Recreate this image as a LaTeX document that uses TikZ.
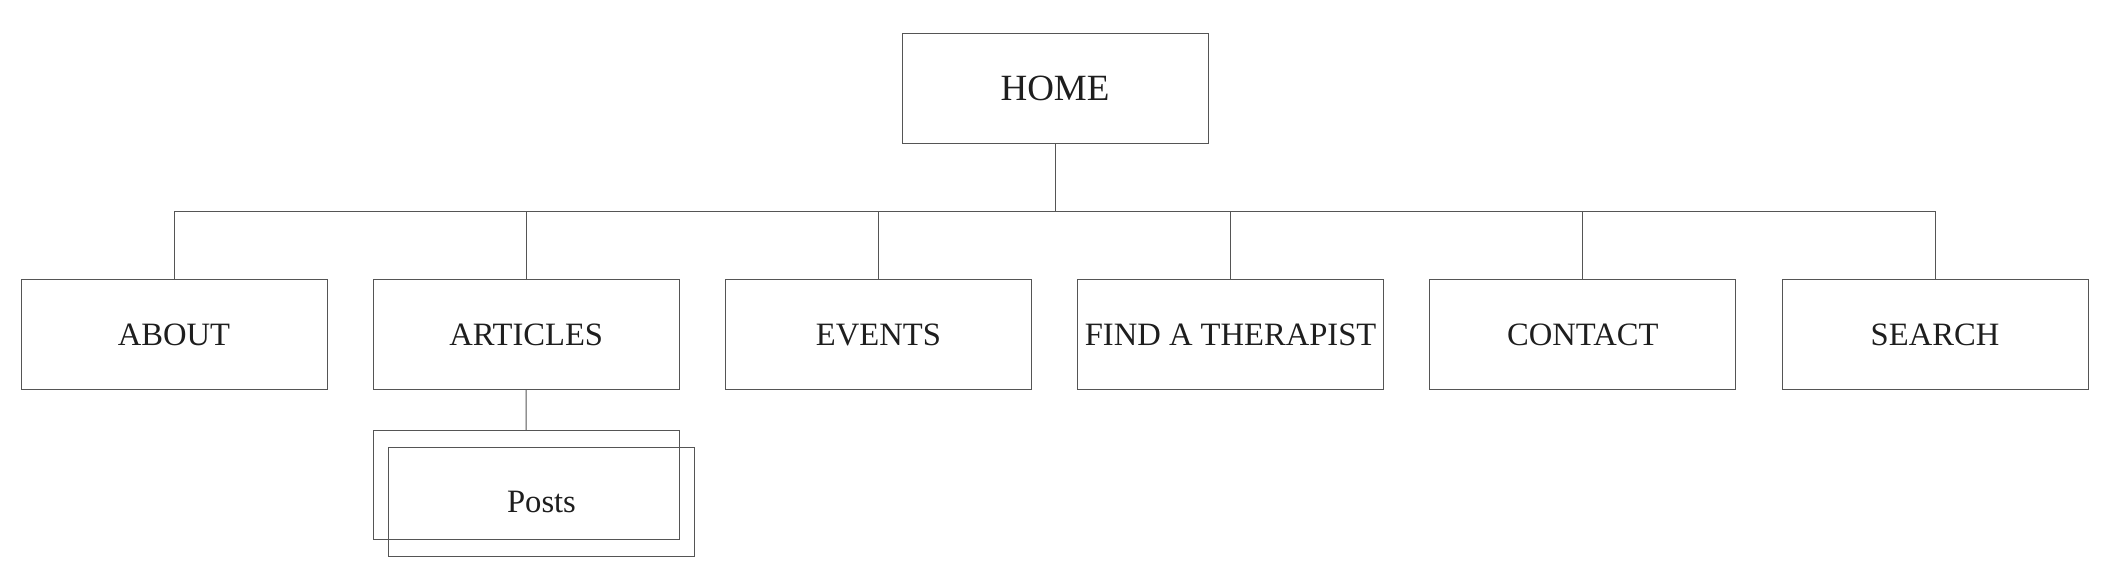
\documentclass[tikz,border=0pt]{standalone}
\usepackage{fontspec}
\setmainfont{Liberation Serif}
\begin{document}
\begin{tikzpicture}[
    pagebox/.style={draw=linegray, line width=0.5pt, minimum width=153pt, minimum height=55pt,
        inner sep=2pt, text=textgray, font=\fontsize{16.3}{20}\selectfont},
    homebox/.style={pagebox, font=\fontsize{18.5}{22}\selectfont},
    wire/.style={draw=linegray, line width=0.5pt}
]
    % Define colors
    \definecolor{linegray}{RGB}{85,85,85}
    \definecolor{textgray}{RGB}{30,30,30}

    % Fix the page size
    \useasboundingbox (0,0) rectangle (1058pt,-290.5pt);

    % Top level
    \node[homebox] (home) at (527.5pt,-44.25pt) {HOME};

    % Second level
    \node[pagebox] (about)     at (87pt,-167.25pt)    {ABOUT};
    \node[pagebox] (articles)  at (263.1pt,-167.25pt) {ARTICLES};
    \node[pagebox] (events)    at (439.2pt,-167.25pt) {EVENTS};
    \node[pagebox] (therapist) at (615.3pt,-167.25pt) {FIND A THERAPIST};
    \node[pagebox] (contact)   at (791.4pt,-167.25pt) {CONTACT};
    \node[pagebox] (search)    at (967.5pt,-167.25pt) {SEARCH};

    % Stacked posts box
    \node[pagebox, minimum height=54.5pt] (postsback) at (263pt,-242.75pt) {};
    \node[pagebox, minimum height=54.5pt] (posts) at (270.75pt,-251pt) {Posts};

    % Bus line
    \coordinate (bus) at (527.5pt,-105.75pt);
    \draw[wire] (home.south) -- (bus);
    \draw[wire] (about.north) -- (about.north |- bus) -- (search.north |- bus) -- (search.north);
    \draw[wire] (articles.north) -- (articles.north |- bus);
    \draw[wire] (events.north) -- (events.north |- bus);
    \draw[wire] (therapist.north) -- (therapist.north |- bus);
    \draw[wire] (contact.north) -- (contact.north |- bus);

    % Articles to posts
    \draw[wire] (articles.south) -- (postsback.north);

\end{tikzpicture}
\end{document}
